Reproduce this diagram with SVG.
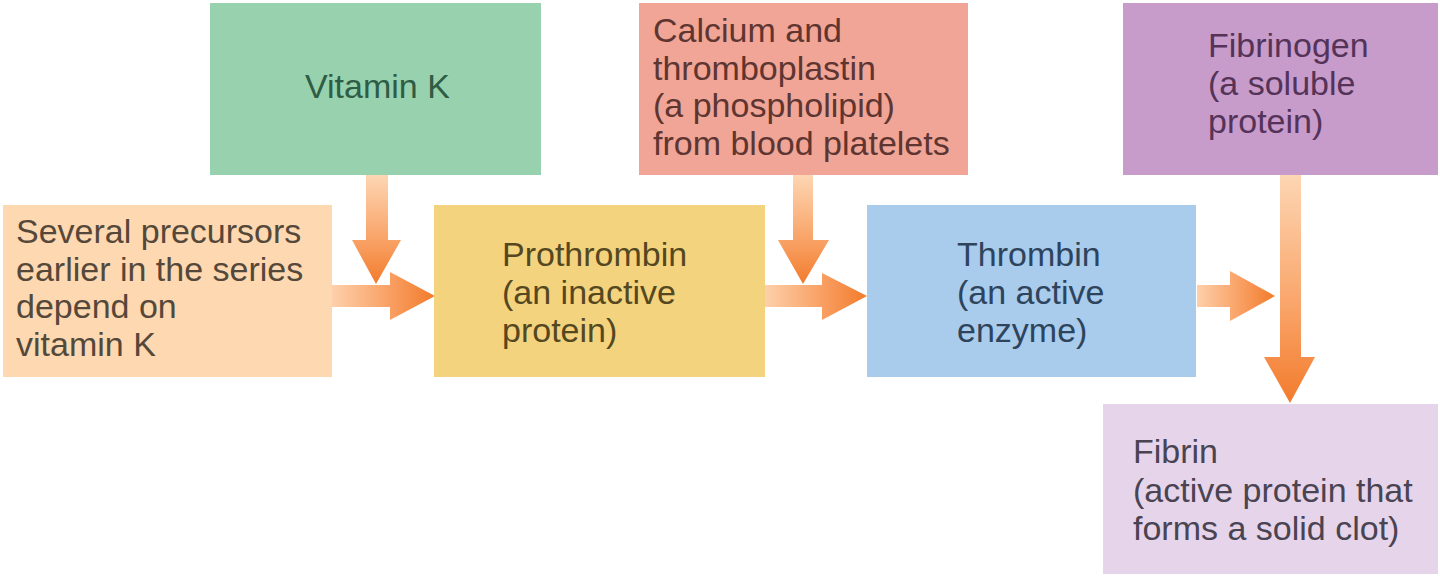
<svg xmlns="http://www.w3.org/2000/svg" width="1440" height="578" viewBox="0 0 1440 578">
<defs>
<linearGradient id="gv" x1="0" y1="0" x2="0" y2="1">
<stop offset="0" stop-color="#fdd6b3"/>
<stop offset="0.6" stop-color="#f9a266"/>
<stop offset="1" stop-color="#f27b2c"/>
</linearGradient>
<linearGradient id="gh" x1="0" y1="0" x2="1" y2="0">
<stop offset="0" stop-color="#fdd0aa"/>
<stop offset="0.55" stop-color="#f9a064"/>
<stop offset="1" stop-color="#f27b2c"/>
</linearGradient>
<style>
text{font-family:"Liberation Sans",Arial,sans-serif;font-size:34px}
.vh{fill:url(#gv)}
.hh{fill:url(#gh)}
</style>
</defs>
<rect width="1440" height="578" fill="#ffffff"/>
<g id="connectors">
<path class="vh" d="M366,175 L388,175 L388,240 L401,240 L376,284 L352,240 L366,240 Z"/>
<path class="hh" d="M332,285 L390,285 L390,272 L435,296 L390,320 L390,307 L332,307 Z"/>
<path class="vh" d="M793,175 L813,175 L813,240 L829,240 L803,284 L778,240 L793,240 Z"/>
<path class="hh" d="M765,285 L822,285 L822,273 L867,296 L822,320 L822,307 L765,307 Z"/>
<path class="hh" d="M1197,285 L1230,285 L1230,271 L1275,296 L1230,321 L1230,307 L1197,307 Z"/>
<path class="vh" d="M1280,175 L1301,175 L1301,357 L1315,357 L1290,403 L1264,357 L1280,357 Z"/>
</g>
<g id="vitaminK">
<rect x="210" y="3" width="331" height="172" fill="#98d1ae"/>
<text x="305" y="98" fill="#2e5c44">Vitamin K</text>
</g>
<g id="calcium">
<rect x="639" y="3" width="329" height="172" fill="#f0a597"/>
<text fill="#5e3530"><tspan x="653" y="42">Calcium and</tspan><tspan x="653" y="80">thromboplastin</tspan><tspan x="653" y="117">(a phospholipid)</tspan><tspan x="653" y="155">from blood platelets</tspan></text>
</g>
<g id="fibrinogen">
<rect x="1123" y="3" width="315" height="172" fill="#c79ccb"/>
<text fill="#553358"><tspan x="1208" y="57">Fibrinogen</tspan><tspan x="1208" y="95">(a soluble</tspan><tspan x="1208" y="133">protein)</tspan></text>
</g>
<g id="precursors">
<rect x="3" y="205" width="329" height="172" fill="#fdd8b0"/>
<text fill="#55483a"><tspan x="16" y="243">Several precursors</tspan><tspan x="16" y="281">earlier in the series</tspan><tspan x="16" y="318">depend on</tspan><tspan x="16" y="356">vitamin K</tspan></text>
</g>
<g id="prothrombin">
<rect x="434" y="205" width="331" height="172" fill="#f4d37f"/>
<text fill="#554820"><tspan x="502" y="266">Prothrombin</tspan><tspan x="502" y="304">(an inactive</tspan><tspan x="502" y="342">protein)</tspan></text>
</g>
<g id="thrombin">
<rect x="867" y="205" width="329" height="172" fill="#a9cbec"/>
<text fill="#2e445c"><tspan x="957" y="266">Thrombin</tspan><tspan x="957" y="304">(an active</tspan><tspan x="957" y="342">enzyme)</tspan></text>
</g>
<g id="fibrin">
<rect x="1103" y="404" width="335" height="170" fill="#e6d5ea"/>
<text fill="#4a4452"><tspan x="1133" y="463">Fibrin</tspan><tspan x="1133" y="502">(active protein that</tspan><tspan x="1133" y="540">forms a solid clot)</tspan></text>
</g>
</svg>
